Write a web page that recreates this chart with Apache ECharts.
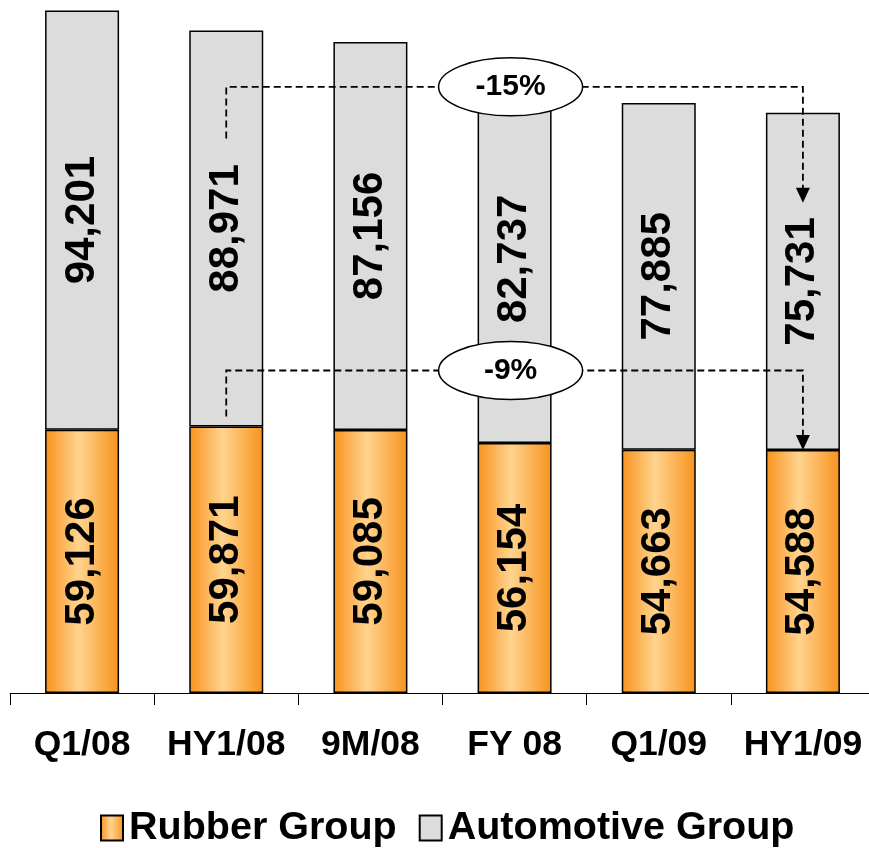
<!DOCTYPE html>
<html>
<head>
<meta charset="utf-8">
<script src="https://cdn.jsdelivr.net/npm/echarts@6/dist/echarts.min.js"></script>
<style>
html,body{margin:0;padding:0;background:#fff;overflow:hidden;}
#c{width:880px;height:848px;}
</style>
</head>
<body>
<div id="c"></div>
<script>
const categories = ['Q1/08', 'HY1/08', '9M/08', 'FY 08', 'Q1/09', 'HY1/09'];
const rubberGroup = [59126, 59871, 59085, 56154, 54663, 54588];
const automotiveGroup = [94201, 88971, 87156, 82737, 77885, 75731];
const changeLabels = ['-15%', '-9%'];

const FONT = '"Liberation Sans", Arial, Helvetica, sans-serif';
const fmt = v => String(v).replace(/\B(?=(\d{3})+(?!\d))/g, ',');

const chart = echarts.init(document.getElementById('c'), null, {renderer: 'canvas'});

const orangeGrad = new echarts.graphic.LinearGradient(0, 0, 1, 0, [
  {offset: 0, color: '#f7921c'},
  {offset: 0.45, color: '#ffd48f'},
  {offset: 1, color: '#f7921c'}
]);

const labelCommon = {
  show: true,
  position: 'inside',
  rotate: 90,
  formatter: p => fmt(p.value),
  fontSize: 42,
  fontWeight: 'bold',
  fontFamily: FONT,
  color: '#000',
  textBorderWidth: 0
};

chart.setOption({
  animation: false,
  grid: {left: 10, width: 865, top: 3, bottom: 155},
  xAxis: {
    type: 'category',
    data: categories,
    axisLine: {lineStyle: {color: '#000', width: 1}},
    axisTick: {show: true, interval: 0, length: 12, lineStyle: {color: '#000', width: 1}},
    axisLabel: {interval: 0, color: '#000', fontSize: 35.5, fontWeight: 'bold', fontFamily: FONT, margin: 34}
  },
  yAxis: {type: 'value', min: 0, max: 155000, show: false, splitLine: {show: false}},
  legend: {
    top: 803,
    left: 95,
    itemWidth: 22,
    itemHeight: 25,
    itemGap: 22,
    icon: 'rect',
    textStyle: {fontSize: 39.5, fontWeight: 'bold', color: '#000', fontFamily: FONT, padding: [0, 0, 0, 1]},
    data: ['Rubber Group', 'Automotive Group']
  },
  series: [
    {
      name: 'Rubber Group', type: 'bar', stack: 'total', data: rubberGroup, barWidth: 74,
      itemStyle: {color: orangeGrad, borderColor: '#000', borderWidth: 1.5},
      label: labelCommon
    },
    {
      name: 'Automotive Group', type: 'bar', stack: 'total', data: automotiveGroup, barWidth: 74,
      itemStyle: {color: '#dcdcdc', borderColor: '#000', borderWidth: 1.5},
      label: labelCommon
    }
  ]
});

// annotations
const px = (i, v) => chart.convertToPixel({xAxisIndex: 0, yAxisIndex: 0}, [i, v]);
const xL = px(1, 0)[0];
const xR = px(5, 0)[0];
const xE = px(3, 0)[0] - 4;
const topL = px(1, rubberGroup[1] + automotiveGroup[1])[1];
const topR = px(5, rubberGroup[5] + automotiveGroup[5])[1];
const rubL = px(1, rubberGroup[1])[1];
const rubR = px(5, rubberGroup[5])[1];

const upper = {start: topL + 108, h: topR - 26, tip: topR + 90};
const lower = {start: rubL - 10, h: rubL - 56, tip: rubR};

function annot(a, text) {
  const dash = {stroke: '#000', lineWidth: 1.8, lineDash: [7, 4], fill: null};
  return [
    {type: 'polyline', z: 100, shape: {points: [[xL, a.start], [xL, a.h], [xR, a.h], [xR, a.tip - 14]]}, style: dash},
    {type: 'polygon', z: 101, shape: {points: [[xR - 7, a.tip - 15], [xR + 7, a.tip - 15], [xR, a.tip]]}, style: {fill: '#000'}},
    {type: 'ellipse', z: 102, shape: {cx: xE, cy: a.h, rx: 72, ry: 29}, style: {fill: '#fff', stroke: '#000', lineWidth: 1.5}},
    {type: 'text', z: 103, x: xE, y: a.h, style: {text: text, x: 0, y: 0, align: 'center', verticalAlign: 'middle', font: 'bold 30px ' + FONT, fill: '#000'}}
  ];
}

chart.setOption({graphic: annot(upper, changeLabels[0]).concat(annot(lower, changeLabels[1]))});
</script>
</body>
</html>
